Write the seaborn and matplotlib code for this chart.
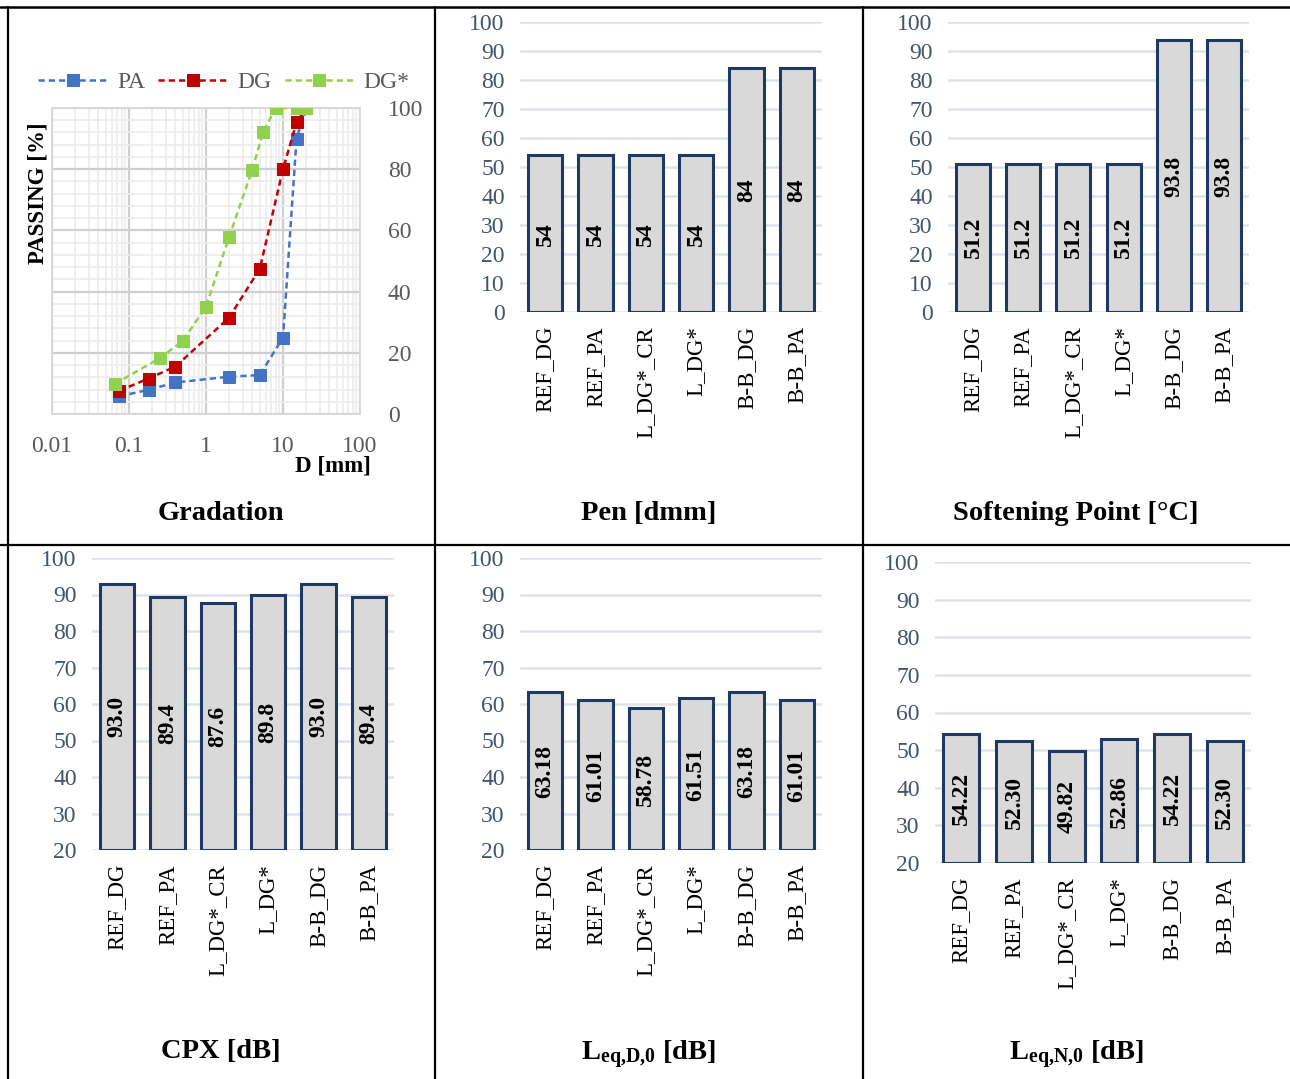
import numpy as np
import pandas as pd
import matplotlib
matplotlib.use("Agg")
import matplotlib.pyplot as plt
from matplotlib.lines import Line2D
from matplotlib.ticker import LogLocator, FixedLocator, NullFormatter
import seaborn as sns

# ---------------- data ----------------
mixes = ["REF_DG", "REF_PA", "L_DG*_CR", "L_DG*", "B-B_DG", "B-B_PA"]

pen_dmm = [54, 54, 54, 54, 84, 84]
softening_c = [51.2, 51.2, 51.2, 51.2, 93.8, 93.8]
cpx_db = [93.0, 89.4, 87.6, 89.8, 93.0, 89.4]
leq_d0_db = [63.18, 61.01, 58.78, 61.51, 63.18, 61.01]
leq_n0_db = [54.22, 52.30, 49.82, 52.86, 54.22, 52.30]

sieve_pa = [0.075, 0.18, 0.4, 2, 5, 10, 15, 20]
passing_pa = [5.8, 7.9, 10.3, 12.2, 12.7, 25.0, 90.0, 100.0]
sieve_dg = [0.075, 0.18, 0.4, 2, 5, 10, 15, 20]
passing_dg = [7.6, 11.6, 15.5, 31.5, 47.5, 80.0, 95.3, 100.0]
sieve_dgs = [0.065, 0.25, 0.5, 1, 2, 4, 5.5, 8, 15, 20]
passing_dgs = [9.8, 18.2, 23.9, 35.1, 57.9, 79.9, 92.0, 100.0, 100.0, 100.0]

# ---------------- style ----------------
sns.set_theme(style="white")
plt.rcParams["font.family"] = ["Liberation Serif", "DejaVu Serif"]
plt.rcParams["text.color"] = "black"
plt.rcParams["mathtext.fontset"] = "custom"
plt.rcParams["mathtext.rm"] = "Liberation Serif"
plt.rcParams["mathtext.bf"] = "Liberation Serif:bold"

W, H = 1290, 1079
fig = plt.figure(figsize=(W / 100, H / 100), dpi=100)
fig.patch.set_facecolor("white")


def rect(left, top, right, bottom):
    return [left / W, 1 - bottom / H, (right - left) / W, (bottom - top) / H]


def ftext(x, y, s, **kw):
    fig.text(x / W, 1 - y / H, s, **kw)


BAR_FILL = "#d9d9d9"
BAR_EDGE = "#1f3864"
GRID = "#dfe3e9"
TICK_C = "#44546a"


def bar_panel(box, values, ymin, fmt, title, title_xy):
    ax = fig.add_axes(rect(*box))
    sns.barplot(x=mixes, y=values, ax=ax, color=BAR_FILL, edgecolor=BAR_EDGE,
                linewidth=2.2, width=0.68, saturation=1)
    # start each bar at the visible axis floor so its outline closes there
    for patch, v in zip(ax.patches, values):
        patch.set_y(ymin)
        patch.set_height(v - ymin)
    ax.set_ylim(ymin, 100)
    ax.set_xlim(-0.5, len(mixes) - 0.5)
    ax.set_yticks(np.arange(ymin, 101, 10))
    ax.yaxis.grid(True, color=GRID, linewidth=1.8)
    ax.set_axisbelow(True)
    for s in ax.spines.values():
        s.set_visible(False)
    ax.tick_params(axis="y", length=0, pad=11, labelsize=17, labelcolor=TICK_C)
    ax.tick_params(axis="x", length=0, pad=10, labelsize=16.5, labelcolor="black",
                   rotation=90)
    ax.set_xlabel("")
    ax.set_ylabel("")
    for i, v in enumerate(values):
        ax.text(i, (ymin + v) / 2, fmt.format(v), rotation=90, ha="center",
                va="center", fontsize=17, fontweight="bold", color="black")
    ftext(*title_xy, title, ha="center", va="center", fontsize=20.5,
          fontweight="bold", color="black")
    return ax


# ---------------- gradation ----------------
axg = fig.add_axes(rect(52, 108, 360, 414))
series = [
    ("PA", sieve_pa, passing_pa, "#4472c4"),
    ("DG", sieve_dg, passing_dg, "#c00000"),
    ("DG*", sieve_dgs, passing_dgs, "#92d050"),
]
for name, xs, ys, col in series:
    sns.lineplot(x=xs, y=ys, ax=axg, color=col, marker="s", markersize=9,
                 markeredgecolor=col, linewidth=1.8, dashes=False, sort=False,
                 label=name, zorder=3)
for line in axg.get_lines():
    line.set_linestyle((0, (2.5, 1.6)))
axg.set_xscale("log")
axg.set_xlim(0.01, 100)
axg.set_ylim(0, 100)
axg.set_xticks([0.01, 0.1, 1, 10, 100])
axg.set_xticklabels(["0.01", "0.1", "1", "10", "100"])
axg.xaxis.set_minor_locator(LogLocator(base=10, subs=np.arange(2, 10)))
axg.xaxis.set_minor_formatter(NullFormatter())
axg.set_yticks(np.arange(0, 101, 20))
axg.yaxis.set_minor_locator(FixedLocator(np.arange(0, 101, 4)))
axg.yaxis.tick_right()
axg.grid(True, which="major", color="#d0d0d0", linewidth=1.6)
axg.grid(True, which="minor", color="#ececec", linewidth=1.2)
axg.set_axisbelow(True)
for s in axg.spines.values():
    s.set_color("#d9d9d9")
    s.set_linewidth(1.4)
axg.tick_params(axis="both", which="both", length=0)
axg.tick_params(axis="y", pad=20, labelsize=17, labelcolor="#595959")
axg.tick_params(axis="x", pad=16, labelsize=17, labelcolor="#595959")
axg.set_xlabel("")
axg.set_ylabel("")
leg = axg.legend(loc="center", bbox_to_anchor=((224 - 52) / 308, 1 + 26 / 306),
                 ncol=3, frameon=False, fontsize=17, handlelength=2.9,
                 columnspacing=0.55, handletextpad=0.45, borderaxespad=0)
for t in leg.get_texts():
    t.set_color("#595959")
for h in leg.legend_handles:
    h.set_linestyle((0, (2.5, 1.6)))
ftext(38, 193, "PASSING [%]", rotation=90, ha="center", va="center",
      fontsize=16.5, fontweight="bold", color="black")
ftext(333, 466, "D [mm]", ha="center", va="center", fontsize=16.5,
      fontweight="bold", color="black")
ftext(221, 514, "Gradation", ha="center", va="center", fontsize=20.5,
      fontweight="bold", color="black")

# ---------------- bar panels ----------------
bar_panel((520, 22, 822, 312), pen_dmm, 0, "{:.0f}", "Pen [dmm]", (649, 513))
bar_panel((948, 22, 1249, 312), softening_c, 0, "{:.1f}",
          "Softening Point [°C]", (1076, 513))
bar_panel((92, 558, 394, 850), cpx_db, 20, "{:.1f}", "CPX [dB]", (221, 1051))
bar_panel((520, 558, 822, 850), leq_d0_db, 20, "{:.2f}",
          r"$\mathbf{L_{eq{,}D{,}0}}$ [dB]", (649, 1055))
bar_panel((935, 562, 1251, 863), leq_n0_db, 20, "{:.2f}",
          r"$\mathbf{L_{eq{,}N{,}0}}$ [dB]", (1077, 1055))

# ---------------- table rules ----------------
def hline(y, x0, x1, lw=1.6):
    fig.add_artist(Line2D([x0 / W, x1 / W], [1 - y / H, 1 - y / H],
                          color="black", linewidth=lw))


def vline(x, y0, y1, lw=1.6):
    fig.add_artist(Line2D([x / W, x / W], [1 - y0 / H, 1 - y1 / H],
                          color="black", linewidth=lw))


hline(7, 0, W, lw=1.8)
hline(545, 0, W)
vline(8, 7, H)
vline(435, 7, H)
vline(863, 7, H)

fig.savefig("out.png", dpi=100)
